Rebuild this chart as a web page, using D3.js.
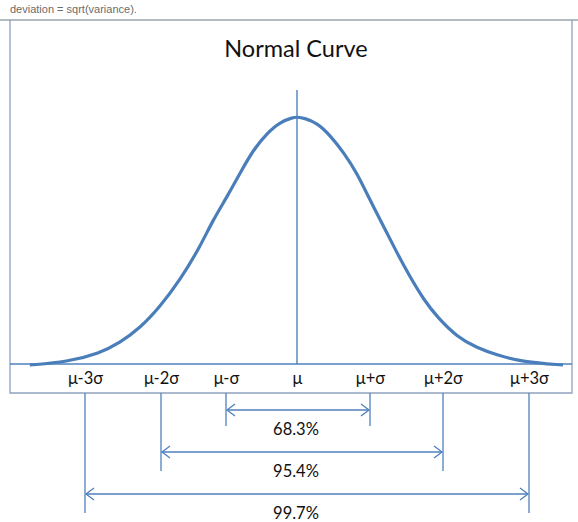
<!DOCTYPE html>
<html><head><meta charset="utf-8">
<script src="https://cdn.jsdelivr.net/npm/d3@7"></script>
<style>body{margin:0;background:#fff}svg{display:block}</style>
</head><body>
<script>
// ---- data ----
const tickSigmas = [-3, -2, -1, 0, 1, 2, 3];
const tickLabels = ["μ-3σ", "μ-2σ", "μ-σ", "μ", "μ+σ", "μ+2σ", "μ+3σ"];
// curve (x in σ units, y relative density, peak = 1)
const curveX = [-3.66, -3.15, -2.70, -2.43, -2.15, -1.88, -1.60, -1.33, -1.15, -0.96, -0.78, -0.60, -0.41, -0.23, -0.055, 0,
                0.096, 0.274, 0.452, 0.644, 0.822, 1.0, 1.192, 1.370, 1.548, 1.740, 1.918, 2.192, 2.466, 2.740, 3.096, 3.644];
const curveY = [0, 0.012, 0.048, 0.089, 0.149, 0.234, 0.343, 0.476, 0.585, 0.677, 0.774, 0.867, 0.935, 0.980, 0.998, 1.0,
                0.996, 0.976, 0.927, 0.855, 0.774, 0.665, 0.556, 0.452, 0.355, 0.262, 0.194, 0.113, 0.069, 0.040, 0.012, 0];
const rangeLo = [-1, -2, -3];
const rangeHi = [1, 2, 3];
const rangePct = ["68.3%", "95.4%", "99.7%"];
const titleText = "Normal Curve";
const captionText = "deviation = sqrt(variance).";

// ---- layout ----
const W = 578, H = 522;
const boxL = 10, boxR = 572, boxT = 20, baseY = 364, boxB = 393;
const blue = "#4f81bd", curveBlue = "#4a7ebb", boxCol = "#8ea3bd";
const font = "Lato, 'Open Sans', sans-serif";

const svg = d3.select("body").append("svg").attr("width", W).attr("height", H);

// label/bracket positions (as drawn in the picture) and a smooth scale for the curve
const x = d3.scaleLinear().domain(tickSigmas).range([85, 161, 226, 297, 370, 443, 529]);
const xc = d3.scaleLinear().domain([-1, 1]).range([224, 370]);
const y = d3.scaleLinear().domain([0, 1]).range([365, 117]);

svg.append("text").attr("x", 10).attr("y", 13)
  .attr("font-family", "Liberation Sans, Arial, sans-serif").attr("font-size", 11)
  .attr("fill", "#6b6b6b").text(captionText);

// outer box
svg.append("line").attr("x1", 0).attr("x2", W).attr("y1", boxT).attr("y2", boxT)
  .attr("stroke", "#9aa3ab").attr("stroke-width", 1.5);
svg.append("path").attr("d", `M${boxL},${boxT} V${boxB} H${boxR} V${boxT}`)
  .attr("fill", "none").attr("stroke", boxCol).attr("stroke-width", 1.3);

// title
svg.append("text").attr("x", 296).attr("y", 57).attr("text-anchor", "middle")
  .attr("font-family", font).attr("font-size", 23.5)
  .attr("fill", "#111").text(titleText);

// baseline axis with labels
const axis = d3.axisBottom(x).tickValues(tickSigmas).tickSize(0).tickPadding(0)
  .tickFormat((d, i) => tickLabels[i]);
const ag = svg.append("g").attr("transform", `translate(0,${baseY})`).call(axis);
ag.select(".domain").remove();
ag.selectAll("text").attr("dy", null).attr("y", 20)
  .attr("font-family", font).attr("font-size", 16.5).attr("fill", "#111");
svg.append("line").attr("x1", boxL).attr("x2", boxR).attr("y1", baseY).attr("y2", baseY)
  .attr("stroke", blue).attr("stroke-width", 1.6);

// mean line
svg.append("line").attr("x1", x(0)).attr("x2", x(0)).attr("y1", 90).attr("y2", baseY)
  .attr("stroke", blue).attr("stroke-width", 1.4);

// curve
const pts = curveX.map((v, i) => [v, curveY[i]]);
svg.append("path").datum(pts)
  .attr("d", d3.line().x(d => xc(d[0])).y(d => y(d[1])).curve(d3.curveBasis))
  .attr("fill", "none").attr("stroke", curveBlue).attr("stroke-width", 3.2);

// brackets
rangePct.forEach((p, i) => {
  const rowY = 410 + i * 42;
  const x1 = x(rangeLo[i]), x2 = x(rangeHi[i]);
  const g = svg.append("g").attr("stroke", blue).attr("stroke-width", 1.3).attr("fill", "none");
  g.append("line").attr("x1", x1).attr("x2", x1).attr("y1", boxB).attr("y2", rowY + 16 + (i ? 3 : 0));
  g.append("line").attr("x1", x2).attr("x2", x2).attr("y1", boxB).attr("y2", rowY + 16 + (i ? 3 : 0));
  g.append("line").attr("x1", x1 + 1).attr("x2", x2 - 1).attr("y1", rowY).attr("y2", rowY);
  g.append("path").attr("d", `M${x1 + 9},${rowY - 6} L${x1 + 1},${rowY} L${x1 + 9},${rowY + 6}`);
  g.append("path").attr("d", `M${x2 - 9},${rowY - 6} L${x2 - 1},${rowY} L${x2 - 9},${rowY + 6}`);
  svg.append("text").attr("x", 296).attr("y", rowY + 25).attr("text-anchor", "middle")
    .attr("font-family", font).attr("font-size", 16.5)
    .attr("fill", "#111").text(p);
});
</script>
</body></html>
